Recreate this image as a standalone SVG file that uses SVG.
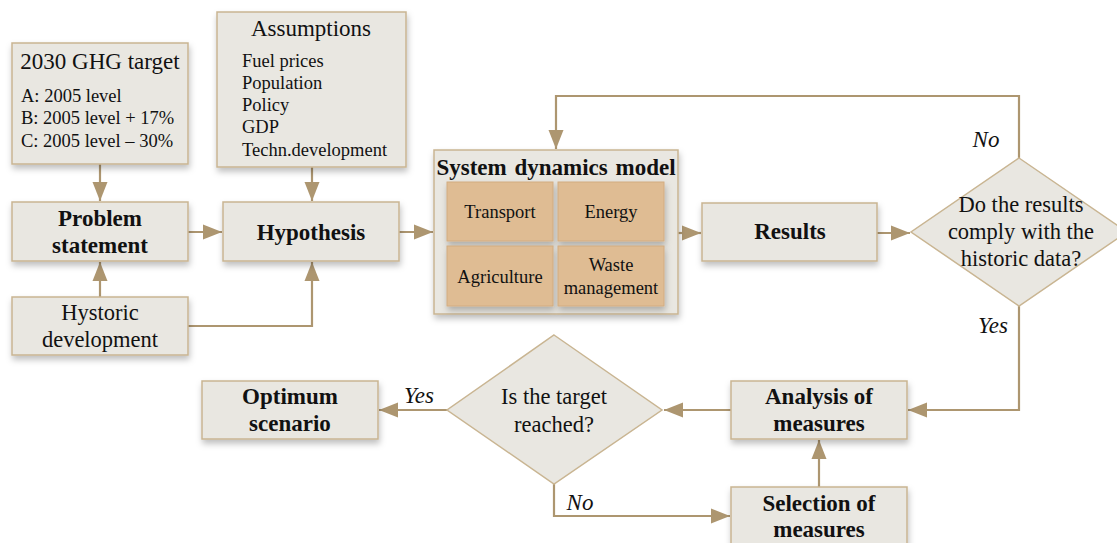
<svg xmlns="http://www.w3.org/2000/svg" width="1117" height="543" viewBox="0 0 1117 543">
<style>
.box{fill:#E9E7E1;stroke:#C9B592;stroke-width:1.5;filter:url(#sh)}
.sub{fill:#DFBC93;stroke:#D2AC80;stroke-width:1;filter:url(#sh)}
.dia{fill:#E9E7E1;stroke:#C9B592;stroke-width:1.5}
.c{fill:none;stroke:#AD9670;stroke-width:2.2}
text{font-family:"Liberation Serif","Times New Roman",serif;fill:#111}
.b{font-weight:bold;font-size:23px;text-anchor:middle}
.r{font-size:22.5px;text-anchor:middle}
.l{font-size:18.5px}
.s{font-size:18.5px;text-anchor:middle}
.i{font-style:italic;font-size:23px;text-anchor:middle}
</style>
<defs>
<filter id="sh" x="-10%" y="-10%" width="130%" height="140%">
<feDropShadow dx="1" dy="4" stdDeviation="3" flood-color="#000" flood-opacity="0.25"/>
</filter>
<marker id="ah" markerUnits="userSpaceOnUse" markerWidth="20" markerHeight="16" refX="19" refY="8" orient="auto">
<path d="M0,0.5 L19,8 L0,15.5 z" fill="#AD9670"/>
</marker>
</defs>
<g id="connectors">
<path class="c" d="M100,164 V201" marker-end="url(#ah)"/>
<path class="c" d="M312,167 V201" marker-end="url(#ah)"/>
<path class="c" d="M100,297 V262" marker-end="url(#ah)"/>
<path class="c" d="M188,326 H312 V262" marker-end="url(#ah)"/>
<path class="c" d="M188,232 H222" marker-end="url(#ah)"/>
<path class="c" d="M399,232 H433" marker-end="url(#ah)"/>
<path class="c" d="M678,233 H701" marker-end="url(#ah)"/>
<path class="c" d="M877,233 H910" marker-end="url(#ah)"/>
<path class="c" d="M1019,158 V96 H556 V149" marker-end="url(#ah)"/>
<path class="c" d="M1019,306 V410 H908" marker-end="url(#ah)"/>
<path class="c" d="M731,410 H664" marker-end="url(#ah)"/>
<path class="c" d="M447,410 H379" marker-end="url(#ah)"/>
<path class="c" d="M554,484 V516 H730" marker-end="url(#ah)"/>
<path class="c" d="M819,487 V440" marker-end="url(#ah)"/>
<text class="i" x="986" y="147">No</text>
<text class="i" x="993" y="333">Yes</text>
<text class="i" x="419" y="403">Yes</text>
<text class="i" x="580" y="510">No</text>
</g>
<g id="ghg-target">
<rect class="box" x="12" y="43" width="176" height="121"/>
<text class="r" x="100" y="69" style="font-size:23px">2030 GHG target</text>
<text class="l" x="21" y="102">A: 2005 level</text>
<text class="l" x="21" y="124">B: 2005 level + 17%</text>
<text class="l" x="21" y="147">C: 2005 level – 30%</text>
</g>
<g id="assumptions">
<rect class="box" x="217" y="12" width="189" height="155"/>
<text class="r" x="311" y="36" style="font-size:23px">Assumptions</text>
<text class="l" x="242" y="67">Fuel prices</text>
<text class="l" x="242" y="89">Population</text>
<text class="l" x="242" y="111">Policy</text>
<text class="l" x="242" y="133">GDP</text>
<text class="l" x="242" y="156">Techn.development</text>
</g>
<g id="problem-statement">
<rect class="box" x="12" y="202" width="176" height="59"/>
<text class="b" x="100" y="226">Problem</text>
<text class="b" x="100" y="253">statement</text>
</g>
<g id="hypothesis">
<rect class="box" x="223" y="202" width="176" height="59"/>
<text class="b" x="311" y="240">Hypothesis</text>
</g>
<g id="hystoric-development">
<rect class="box" x="12" y="297" width="176" height="58"/>
<text class="r" x="100" y="320">Hystoric</text>
<text class="r" x="100" y="347">development</text>
</g>
<g id="system-dynamics-model">
<rect class="box" x="434" y="150" width="244" height="164"/>
<text class="b" x="556" y="175" style="word-spacing:2px">System dynamics model</text>
<rect class="sub" x="447" y="182" width="106" height="59"/>
<rect class="sub" x="558" y="182" width="106" height="59"/>
<rect class="sub" x="447" y="246" width="106" height="60"/>
<rect class="sub" x="558" y="246" width="106" height="60"/>
<text class="s" x="500" y="218">Transport</text>
<text class="s" x="611" y="218">Energy</text>
<text class="s" x="500" y="283">Agriculture</text>
<text class="s" x="611" y="271">Waste</text>
<text class="s" x="611" y="294">management</text>
</g>
<g id="results">
<rect class="box" x="702" y="203" width="175" height="58"/>
<text class="b" x="790" y="239">Results</text>
</g>
<g id="comply-decision">
<polygon class="dia" points="1019,158 1127,232 1019,306 911,232"/>
<text class="r" x="1021" y="212">Do the results</text>
<text class="r" x="1021" y="239">comply with the</text>
<text class="r" x="1021" y="266">historic data?</text>
</g>
<g id="analysis-of-measures">
<rect class="box" x="731" y="381" width="176" height="58"/>
<text class="b" x="819" y="404">Analysis of</text>
<text class="b" x="819" y="431">measures</text>
</g>
<g id="selection-of-measures">
<rect class="box" x="731" y="487" width="176" height="58"/>
<text class="b" x="819" y="511">Selection of</text>
<text class="b" x="819" y="537">measures</text>
</g>
<g id="target-decision">
<polygon class="dia" points="554,335 662,410 554,484 447,410"/>
<text class="r" x="554" y="404">Is the target</text>
<text class="r" x="554" y="432">reached?</text>
</g>
<g id="optimum-scenario">
<rect class="box" x="202" y="381" width="176" height="58"/>
<text class="b" x="290" y="404">Optimum</text>
<text class="b" x="290" y="431">scenario</text>
</g>
</svg>
